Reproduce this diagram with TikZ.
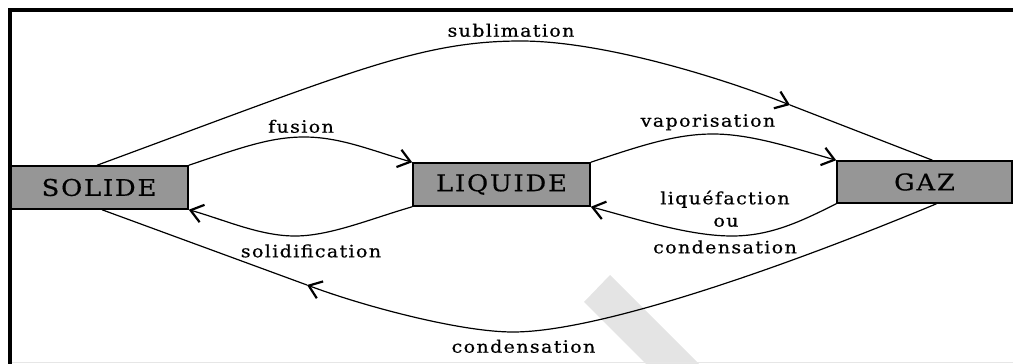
\documentclass[tikz,border=0pt]{standalone}
\usepackage{fontspec}
\usetikzlibrary{arrows.meta,calc}
\newfontfamily\labelfont[LetterSpace=8,FakeStretch=1.12,FakeBold=0.6]{DejaVu Serif}
\definecolor{boxgray}{RGB}{150,150,150}
\definecolor{wmgray}{RGB}{228,228,228}
\definecolor{edgegray}{RGB}{230,230,230}

\begin{document}
\begin{tikzpicture}[x=1pt,y=-1pt,
  state/.style={draw=black, line width=1.5pt, fill=boxgray, inner sep=0pt,
    font=\labelfont\fontsize{23}{26}\selectfont},
  trans/.style={line width=1.2pt, -{Straight Barb[length=12pt,width=18pt,line width=2.2pt]}},
  plain/.style={line width=1.2pt},
  lbl/.style={font=\labelfont\fontsize{17}{20}\selectfont, anchor=base, inner sep=0pt}]

\useasboundingbox (0,0) rectangle (1013,364);

% light diagonal band and bottom edge
\fill[wmgray] (584,302) -- (610,275) -- (699,364) -- (646,364) -- cycle;
\draw[line width=1.5pt, edgegray] (11,362.5) -- (1013,362.5);

% states
\node[state, minimum width=178pt, minimum height=43pt] (S) at (99,187.5) {SOLIDE};
\node[state, minimum width=177pt, minimum height=43pt] (L) at (501.5,184.5) {LIQUIDE};
\node[state, minimum width=175pt, minimum height=42pt] (G) at (924.5,182) {GAZ};

% curve apexes and mid-path arrow points
\coordinate (subtop) at (521,41);
\coordinate (subarr) at (790,105);
\coordinate (fustop) at (304,137);
\coordinate (soltop) at (295,236);
\coordinate (vaptop) at (713,134);
\coordinate (liqbot) at (732,236);
\coordinate (conbot) at (513,332);
\coordinate (conarr) at (307,285);

% sublimation
\draw[trans] ($(S.north)+(-2,0)$) .. controls (350,72) and (420,41) .. (subtop)
  .. controls (600,41) and (715.6,75.6) .. (subarr);
\draw[plain] (subarr) -- ($(G.north)+(8,0)$);

% fusion / solidification
\draw[trans] (S.north east) .. controls (240,148) and (270,137) .. (fustop)
  .. controls (340,137) and (370,150) .. (L.north west);
\draw[trans] (L.south west) .. controls (370,219) and (330,236) .. (soltop)
  .. controls (260,236) and (225,220) .. (S.south east);

% vaporisation / liquefaction
\draw[trans] (L.north east) .. controls (640,146) and (675,134) .. (vaptop)
  .. controls (750,134) and (790,147) .. (G.north west);
\draw[trans] (G.south west) .. controls (800,222) and (770,236) .. (liqbot)
  .. controls (690,236) and (640,220) .. (L.south east);

% condensation (gas to solid)
\draw[trans] ($(G.south)+(12,0)$) .. controls (787,266) and (600,332) .. (conbot)
  .. controls (460,332) and (363,306) .. (conarr);
\draw[plain] (conarr) -- ($(S.south)+(3,0)$);

% labels
\node[lbl] (tsub) at (511,36.7) {sublimation};
\node[lbl] (tfus) at (301,132.7) {fusion};
\node[lbl] (tvap) at (708,126.7) {vaporisation};
\node[lbl] (tliq) at (725,204.3) {liquéfaction};
\node[lbl] (tou) at (726,226.7) {ou};
\node[lbl] (tcon1) at (725,253.3) {condensation};
\node[lbl] (tsol) at (311,257.3) {solidification};
\node[lbl] (tcon2) at (523.5,352.7) {condensation};

% frame
\draw[line width=4pt, line join=miter] (9.5,364) -- (9.5,10.3) -- (1013,10.3);
\end{tikzpicture}
\end{document}
